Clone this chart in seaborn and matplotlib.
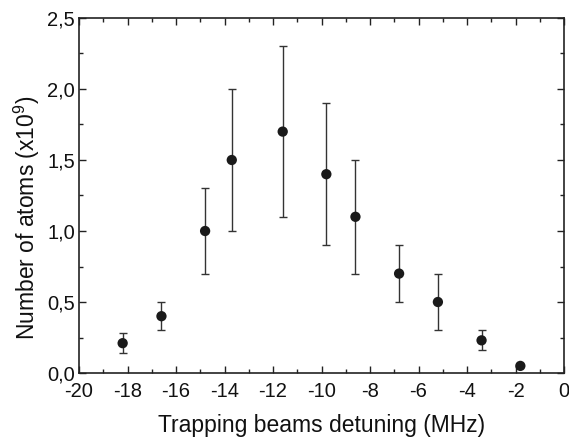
import matplotlib
matplotlib.use("Agg")
import matplotlib.pyplot as plt
import seaborn as sns
import pandas as pd
from matplotlib.ticker import MultipleLocator, FuncFormatter

detuning = [-18.2, -16.6, -14.8, -13.7, -11.6, -9.8, -8.6, -6.8, -5.2, -3.4, -1.8]
atoms = [0.21, 0.40, 1.00, 1.50, 1.70, 1.40, 1.10, 0.70, 0.50, 0.23, 0.05]
err = [0.07, 0.10, 0.30, 0.50, 0.60, 0.50, 0.40, 0.20, 0.20, 0.07, 0.0]

df = pd.DataFrame({"detuning": detuning, "atoms": atoms, "err": err})

sns.set_style("white")
plt.rcParams["font.family"] = ["Liberation Sans", "DejaVu Sans"]
plt.rcParams["mathtext.fontset"] = "custom"
plt.rcParams["mathtext.rm"] = "Liberation Sans"
plt.rcParams["mathtext.it"] = "Liberation Sans"

fig = plt.figure(figsize=(5.69, 4.41), dpi=100)
ax = fig.add_axes([79/569, 1 - 373/441, (564 - 79)/569, (373 - 18)/441])

ax.errorbar(df["detuning"], df["atoms"], yerr=df["err"], fmt="none",
            ecolor="#333333", elinewidth=1.0, capsize=3, capthick=1.0, zorder=2)
sns.scatterplot(data=df, x="detuning", y="atoms", ax=ax, color="#1a1a1a",
                s=55, edgecolor="none", zorder=3, legend=False)

ax.set_xlim(-20, 0)
ax.set_ylim(0, 2.5)
ax.xaxis.set_major_locator(MultipleLocator(2))
ax.xaxis.set_minor_locator(MultipleLocator(1))
ax.yaxis.set_major_locator(MultipleLocator(0.5))
ax.yaxis.set_minor_locator(MultipleLocator(0.25))
ax.yaxis.set_major_formatter(FuncFormatter(lambda v, p: f"{v:.1f}".replace(".", ",")))
ax.xaxis.set_major_formatter(FuncFormatter(lambda v, p: f"{int(round(v))}"))

ax.tick_params(which="both", direction="in", top=True, right=True,
               bottom=True, left=True, labelsize=14.5, color="#222222",
               labelcolor="#111111")
ax.tick_params(which="major", length=5, width=1)
ax.tick_params(which="minor", length=3, width=1)
ax.tick_params(axis="x", which="major", pad=6.5)
ax.tick_params(axis="y", which="major", pad=3)
for s in ax.spines.values():
    s.set_color("#222222")
    s.set_linewidth(1.2)

ax.set_xlabel("Trapping beams detuning (MHz)", fontsize=16.5, labelpad=9, color="#111111")
ax.set_ylabel("Number of atoms (x10$^9$)", fontsize=16.5, labelpad=4, color="#111111",
              y=0.437)

fig.savefig("out.png", dpi=100)
